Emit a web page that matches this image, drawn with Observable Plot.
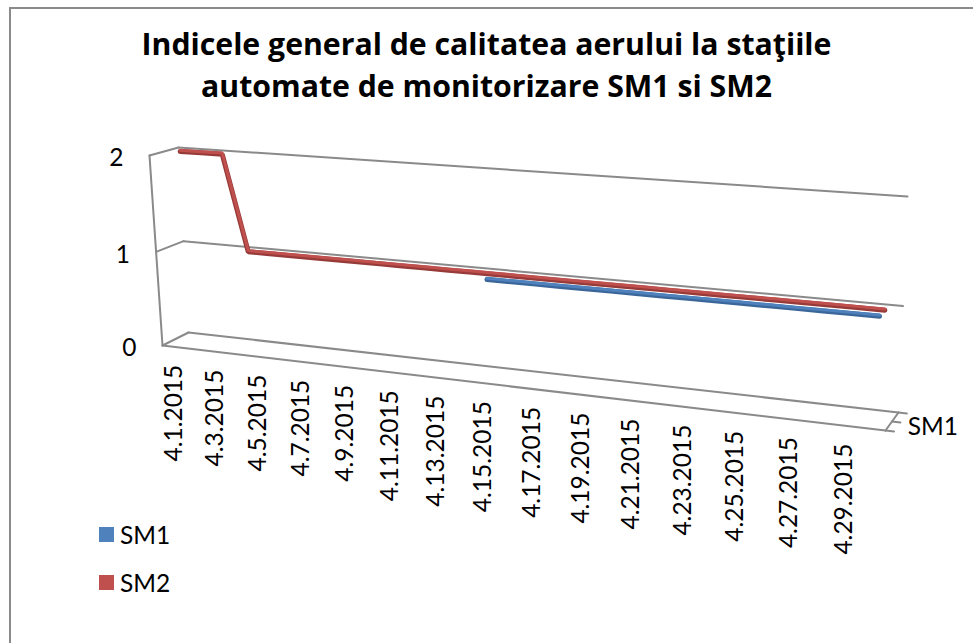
<!DOCTYPE html>
<html>
<head>
<meta charset="utf-8">
<script src="https://cdn.jsdelivr.net/npm/d3@7"></script>
<script src="https://cdn.jsdelivr.net/npm/@observablehq/plot@0.6"></script>
<style>
  html, body { margin: 0; padding: 0; background: #fff; width: 973px; height: 643px; overflow: hidden; }
  #wrap { position: relative; width: 973px; height: 643px; overflow: hidden; }
  #frame { position: absolute; left: 9px; top: 7px; width: 1200px; height: 900px; border: 2px solid #8a8a8a; box-sizing: border-box; }
  #title { position: relative; height: 118px; }
  #title .line { position: absolute; left: 0; width: 973px; text-align: center; font-family: "Open Sans", sans-serif; font-weight: 700; color: #000; white-space: nowrap; }
  #chart { position: absolute; left: 0; top: 118px; }
  #legend { position: absolute; left: 99px; top: 510px; }
  .lg-swatches { font-family: Lato, sans-serif !important; font-size: 24.5px !important; color: #000 !important; margin: 0 !important; }
  .lg-swatch { height: 48.5px; padding-bottom: 0 !important; display: flex !important; align-items: center !important; }
  .lg-swatch > svg { margin-right: 6px !important; }
</style>
</head>
<body>
<div id="wrap">
  <div id="frame"></div>
  <div id="title"></div>
  <div id="chart"></div>
  <div id="legend"></div>
</div>
<script>
// ---------------- data ----------------
const titleLines = ["Indicele general de calitatea aerului la staţiile", "automate de monitorizare SM1 si SM2"];
const series = ["SM1", "SM2"];
const dates = [
  "4.1.2015", "4.2.2015", "4.3.2015", "4.4.2015", "4.5.2015", "4.6.2015", "4.7.2015", "4.8.2015",
  "4.9.2015", "4.10.2015", "4.11.2015", "4.12.2015", "4.13.2015", "4.14.2015", "4.15.2015", "4.16.2015",
  "4.17.2015", "4.18.2015", "4.19.2015", "4.20.2015", "4.21.2015", "4.22.2015", "4.23.2015", "4.24.2015",
  "4.25.2015", "4.26.2015", "4.27.2015", "4.28.2015", "4.29.2015", "4.30.2015"
];
const sm1 = [null, null, null, null, null, null, null, null, null, null, null, null, null, null,
  1, 1, 1, 1, 1, 1, 1, 1, 1, 1, 1, 1, 1, 1, 1, 1];
const sm2 = [2, 2, 2, 1, 1, 1, 1, 1, 1, 1, 1, 1, 1, 1, 1, 1, 1, 1, 1, 1, 1, 1, 1, 1, 1, 1, 1, 1, 1, 1];
const yTicks = [0, 1, 2];
const tickLabels = ["4.1.2015", "4.3.2015", "4.5.2015", "4.7.2015", "4.9.2015", "4.11.2015", "4.13.2015",
  "4.15.2015", "4.17.2015", "4.19.2015", "4.21.2015", "4.23.2015", "4.25.2015", "4.27.2015", "4.29.2015"];

// ---------------- styles ----------------
const BLUE = "#4F81BD", BLUE_DARK = "#3B6699";
const RED = "#C0504D", RED_DARK = "#963B39";
const GRID = "#8a8a8a";
const FONT = 24.5;
const Z_SM1 = 0.3, Z_SM2 = 0.7;   // depth rows of the two ribbons (0 = front, 1 = back wall)
const TOP = 118;                  // svg offset below the title block

// ---------------- title ----------------
(function () {
  const ctx = document.createElement("canvas").getContext("2d");
  ctx.font = '700 100px "Open Sans"';
  const m = ctx.measureText(titleLines[0]);
  const size = 100 * 690 / m.width;
  const asc = (m.fontBoundingBoxAscent || 106.9) / 100 * size;
  const baselines = [55, 97];
  const t = document.getElementById("title");
  titleLines.forEach((txt, i) => {
    const d = document.createElement("div");
    d.className = "line";
    d.textContent = txt;
    d.style.fontSize = size + "px";
    d.style.lineHeight = "normal";
    d.style.top = (baselines[i] - asc) + "px";
    t.appendChild(d);
  });
})();

// ---------------- 3D-looking projection (perspective frame) ----------------
function quad(p0, p1, p2, p3) {
  const [x0, y0] = p0, [x1, y1] = p1, [x2, y2] = p2, [x3, y3] = p3;
  const dx1 = x1 - x2, dx2 = x3 - x2, dx3 = x0 - x1 + x2 - x3;
  const dy1 = y1 - y2, dy2 = y3 - y2, dy3 = y0 - y1 + y2 - y3;
  const den = dx1 * dy2 - dx2 * dy1;
  const g = (dx3 * dy2 - dx2 * dy3) / den;
  const h = (dx1 * dy3 - dx3 * dy1) / den;
  const a = x1 - x0 + g * x1, b = x3 - x0 + h * x3, c = x0;
  const d = y1 - y0 + g * y1, e = y3 - y0 + h * y3, f = y0;
  return (u, w) => { const q = g * u + h * w + 1; return [(a * u + b * w + c) / q, (d * u + e * w + f) / q]; };
}
// range of the frame: corners (u,w) = (0,0),(1,0),(1,1),(0,1)
const backWall = quad([188, 332], [898, 412], [907, 196], [178, 147]);
const frontPlane = quad([162, 345], [885, 430], [894, 208], [149, 155]);
const N = dates.length;
const yMax = d3.max(yTicks);
function place(day, value, z) {
  const u = (day + 0.5) / N, w = value / yMax;
  const b = backWall(u, w), f = frontPlane(u, w);
  return [f[0] + (b[0] - f[0]) * z, f[1] + (b[1] - f[1]) * z - TOP];
}
const ZSTEP = 100;
const enc = (v, z) => v + ZSTEP * Math.round(z * 100);   // pack depth with the value
const projection = d3.geoTransform({
  point(x, y) {
    const zi = Math.round(y / ZSTEP);
    const p = place(x, y - ZSTEP * zi, zi / 100);
    this.stream.point(p[0], p[1]);
  }
});

// ---------------- frame geometry from the ticks ----------------
const first = -0.5, last = N - 0.5;
const frame = [];
yTicks.forEach(v => {
  frame.push({g: "grid" + v, day: first, v, z: 1}, {g: "grid" + v, day: last, v, z: 1});
  frame.push({g: "wall" + v, day: first, v, z: 0}, {g: "wall" + v, day: first, v, z: 1});
});
frame.push({g: "edge", day: first, v: 0, z: 0}, {g: "edge", day: first, v: yMax, z: 0});
frame.push({g: "floor", day: first, v: 0, z: 0}, {g: "floor", day: last, v: 0, z: 0});
frame.push({g: "side", day: last, v: 0, z: 0}, {g: "side", day: last, v: 0, z: 1});
[0, 0.5, 1].forEach(z => frame.push({g: "tick" + z, day: last, v: 0, z}, {g: "tick" + z, day: last + 0.3, v: 0, z}));

const rows1 = dates.map((d, i) => ({day: i, value: sm1[i]}));
const rows2 = dates.map((d, i) => ({day: i, value: sm2[i]}));
const labelRows = tickLabels.map(t => ({day: dates.indexOf(t), label: t}));

const ribbon = (rows, z, light, dark) => [
  Plot.line(rows, {x: "day", y: d => d.value == null ? NaN : enc(d.value, z), stroke: dark, strokeWidth: 5, dy: 0.8, curve: "linear", strokeLinejoin: "miter"}),
  Plot.line(rows, {x: "day", y: d => d.value == null ? NaN : enc(d.value, z), stroke: light, strokeWidth: 3, dy: -0.4, curve: "linear", strokeLinejoin: "miter"})
];

const chart = Plot.plot({
  width: 973,
  height: 525,
  margin: 0,
  projection,
  style: {fontFamily: "Lato, sans-serif", fontSize: FONT + "px", color: "#000", background: "transparent", overflow: "visible"},
  marks: [
    Plot.line(frame, {x: "day", y: d => enc(d.v, d.z), z: "g", stroke: GRID, strokeWidth: 2, curve: "linear"}),
    ...ribbon(rows2, Z_SM2, RED, RED_DARK),
    ...ribbon(rows1, Z_SM1, BLUE, BLUE_DARK),
    Plot.text(yTicks, {x: first, y: v => enc(v, 0), text: v => String(v), textAnchor: "end", dx: -26, dy: 3, fill: "#000", fontSize: FONT}),
    Plot.text(labelRows, {x: "day", y: () => enc(0, 0), text: "label", rotate: -90, textAnchor: "end", dx: 1, dy: 18, fill: "#000", fontSize: FONT}),
    Plot.text([series[0]], {x: last, y: () => enc(0, 0.25), text: d => d, textAnchor: "start", dx: 19, dy: 1, fill: "#000", fontSize: FONT})
  ]
});
document.getElementById("chart").appendChild(chart);

const legend = Plot.legend({
  color: {type: "ordinal", domain: series, range: [BLUE, RED]},
  legend: "swatches",
  swatchSize: 15,
  columns: 1,
  className: "lg"
});
document.getElementById("legend").appendChild(legend);
</script>
</body>
</html>
